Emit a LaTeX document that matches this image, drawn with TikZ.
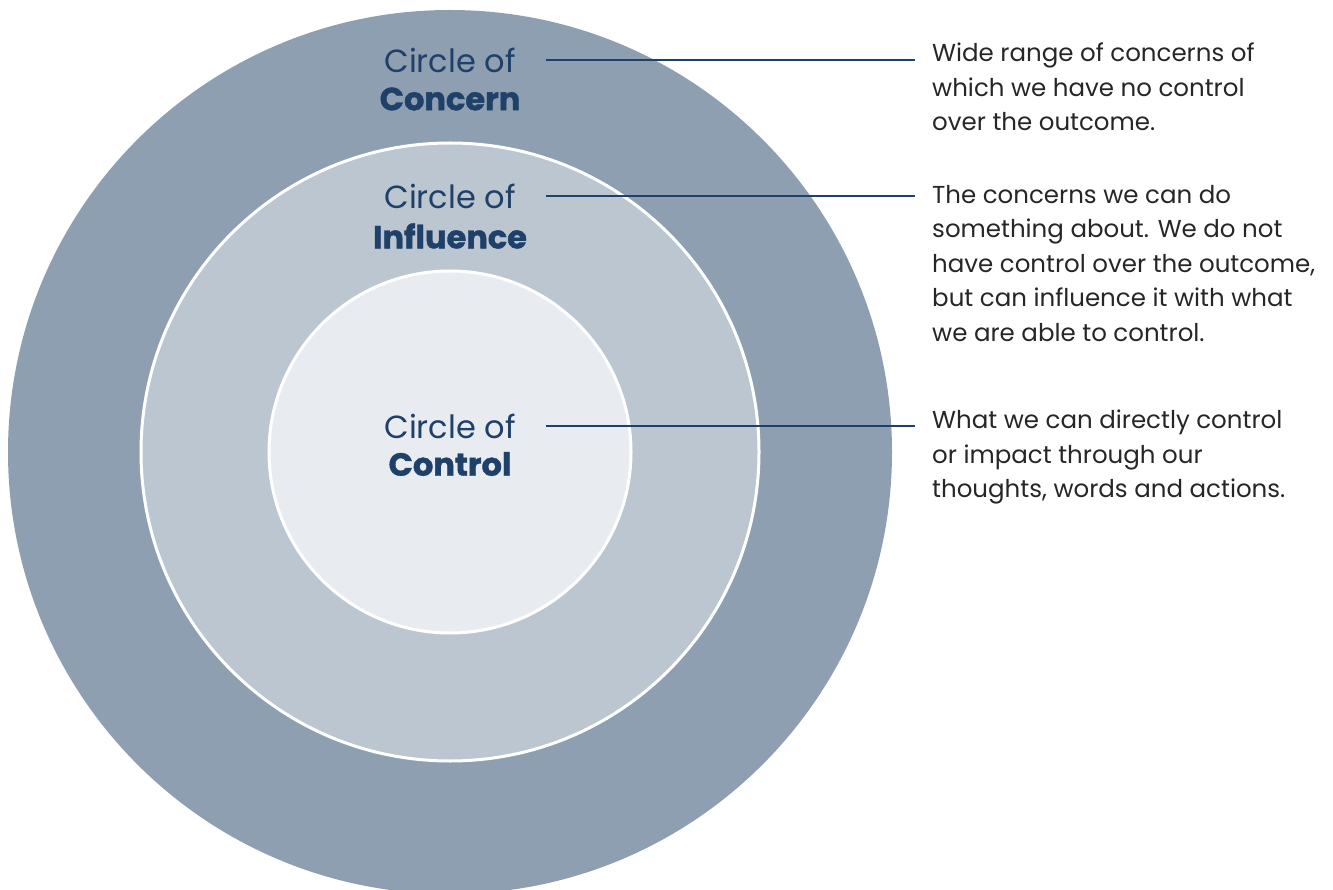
\documentclass[tikz,border=0pt]{standalone}
\usepackage{fontspec}
\setmainfont{Poppins}[BoldFeatures={FakeBold=1.2}]
\usetikzlibrary{calc}
\usetikzlibrary{positioning}

\definecolor{ringout}{HTML}{8E9FB2}
\definecolor{ringmid}{HTML}{BCC6D1}
\definecolor{ringin}{HTML}{E8ECF1}
\definecolor{navy}{HTML}{1E4069}
\definecolor{inkgray}{HTML}{262626}

\tikzset{
  lab/.style={text=navy, inner sep=0pt, font=\fontsize{32}{40}\selectfont},
  labbold/.style={lab, font=\fontsize{32}{40}\selectfont\bfseries},
  desc/.style={text=inkgray, inner sep=0pt, anchor=north west, align=left, font=\fontsize{24.5}{34.5}\selectfont},
  leader/.style={navy, line width=2.4pt}
}

\begin{document}
\begin{tikzpicture}[x=1pt, y=-1pt]
\useasboundingbox (0,0) rectangle (1333,890);
\clip (0,0) rectangle (1333,890);

\coordinate (O) at (450,452);
\fill[ringout] (O) circle (442);
\filldraw[ringmid, draw=white, line width=3pt] (O) circle (309);
\filldraw[ringin, draw=white, line width=3pt] (O) circle (181);

\node[lab] (top1) at (450,60) {Circle of};
\node[labbold] (bot1) at (450,99) {Concern};
\node[lab] (top2) at (450,196) {Circle of};
\node[labbold] (bot2) at (450,236) {Influence};
\node[lab] (top3) at (450,426) {Circle of};
\node[labbold] (bot3) at (450,464) {Control};

\node[desc] (d1) at (932,43) {Wide range of concerns of\\which we have no control\\over the outcome.};
\node[desc] (d2) at (932,185) {The concerns we can do\\something about. We do not\\have control over the outcome,\\but can influence it with what\\we are able to control.};
\node[desc] (d3) at (932,410) {What we can directly control\\or impact through our\\thoughts, words and actions.};

\draw[leader] ([xshift=30]top1.east) -- ([xshift=-17]top1.east -| d1.west);
\draw[leader] ([xshift=30]top2.east) -- ([xshift=-17]top2.east -| d2.west);
\draw[leader] ([xshift=30]top3.east) -- ([xshift=-17]top3.east -| d3.west);

\end{tikzpicture}
\end{document}
